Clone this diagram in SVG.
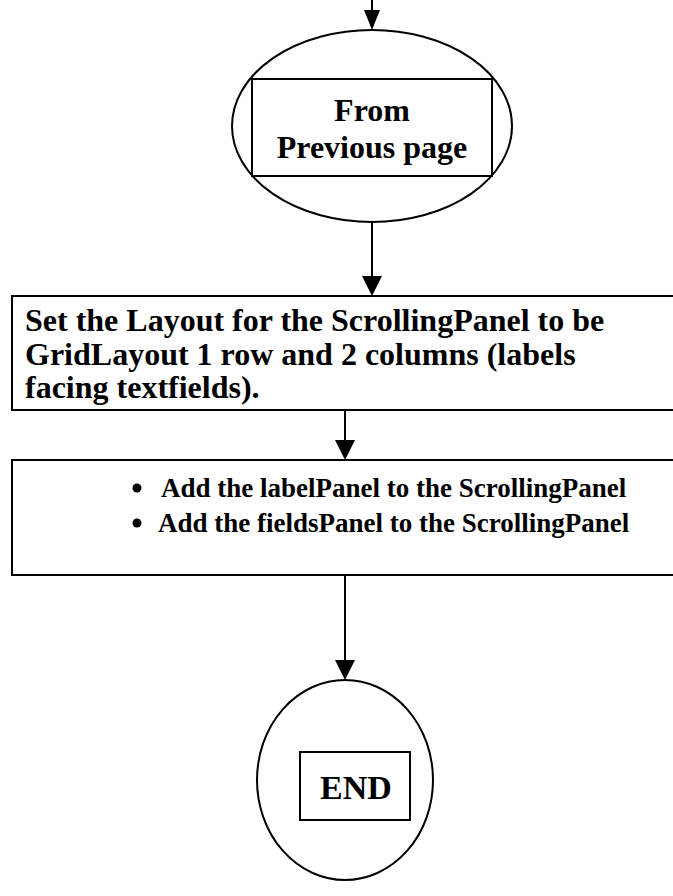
<svg xmlns="http://www.w3.org/2000/svg" width="673" height="896" viewBox="0 0 673 896">
  <style>
    .shape { fill: #ffffff; stroke: #000000; stroke-width: 2; }
    .lbl { font-family: "Liberation Serif", "Times New Roman", serif; font-weight: bold; fill: #000000; }
    .wire { stroke: #000000; stroke-width: 2; fill: none; }
    .tip { fill: #000000; }
  </style>

  <!-- connectors -->
  <g id="connectors">
    <line class="wire" x1="372" y1="0" x2="372" y2="12"/>
    <path class="tip" d="M364,10 L380,10 L372,30 Z"/>
    <line class="wire" x1="372" y1="222" x2="372" y2="278"/>
    <path class="tip" d="M362,276 L382,276 L372,296 Z"/>
    <line class="wire" x1="345" y1="410" x2="345" y2="442"/>
    <path class="tip" d="M335,440 L355,440 L345,460 Z"/>
    <line class="wire" x1="345" y1="575" x2="345" y2="662"/>
    <path class="tip" d="M335,660 L355,660 L345,680 Z"/>
  </g>

  <!-- entry from the previous page -->
  <g id="start">
    <ellipse class="shape" cx="372" cy="126" rx="140" ry="96"/>
    <rect class="shape" x="252" y="79" width="240" height="97"/>
    <text class="lbl" font-size="32" x="372" y="121" text-anchor="middle">From</text>
    <text class="lbl" font-size="32" x="372" y="158" text-anchor="middle">Previous page</text>
  </g>

  <!-- layout step -->
  <g id="set-layout">
    <rect class="shape" x="12" y="296" width="680" height="114"/>
    <text class="lbl" font-size="32" x="25" y="331">Set the Layout for the ScrollingPanel to be</text>
    <text class="lbl" font-size="32" x="25" y="365">GridLayout 1 row and 2 columns (labels</text>
    <text class="lbl" font-size="32" x="25" y="398">facing textfields).</text>
  </g>

  <!-- add panels step -->
  <g id="add-panels">
    <rect class="shape" x="12" y="460" width="680" height="115"/>
    <circle cx="137" cy="488" r="4.5" fill="#000"/>
    <circle cx="137" cy="523" r="4.5" fill="#000"/>
    <text class="lbl" font-size="27" x="161" y="497">Add the labelPanel to the ScrollingPanel</text>
    <text class="lbl" font-size="27" x="158" y="532">Add the fieldsPanel to the ScrollingPanel</text>
  </g>

  <!-- terminator -->
  <g id="end">
    <ellipse class="shape" cx="345" cy="780" rx="88" ry="100"/>
    <rect class="shape" x="300" y="752" width="110" height="68"/>
    <text class="lbl" font-size="34" x="356" y="799" text-anchor="middle">END</text>
  </g>
</svg>
